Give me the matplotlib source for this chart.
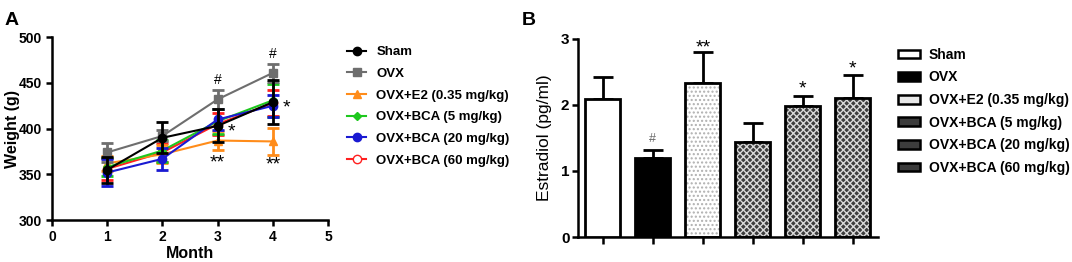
import matplotlib
matplotlib.use("Agg")
import matplotlib.pyplot as plt
from matplotlib.lines import Line2D
from matplotlib.patches import Patch

plt.rcParams["font.family"] = ["Liberation Sans", "DejaVu Sans"]
plt.rcParams["hatch.linewidth"] = 1.0

# panel A: body weight by month
months = [1, 2, 3, 4]
group_names = ["Sham", "OVX", "OVX+E2 (0.35 mg/kg)", "OVX+BCA (5 mg/kg)",
               "OVX+BCA (20 mg/kg)", "OVX+BCA (60 mg/kg)"]
sham_w = [355, 390, 403, 429]
sham_err = [14, 17, 18, 24]
ovx_w = [374, 392, 432, 461]
ovx_err = [10, 6, 10, 10]
e2_w = [362, 372, 387, 386]
e2_err = [8, 10, 10, 15]
bca5_w = [358, 376, 408, 431]
bca5_err = [10, 12, 14, 18]
bca20_w = [352, 367, 410, 425]
bca20_err = [15, 12, 12, 12]
bca60_w = [356, 374, 405, 428]
bca60_err = [12, 10, 12, 14]

# panel B: estradiol
estradiol = [2.09, 1.20, 2.34, 1.44, 1.99, 2.11]
estradiol_err = [0.34, 0.12, 0.46, 0.29, 0.15, 0.34]

fig = plt.figure(figsize=(10.72, 2.62), dpi=100)

# ---------- A ----------
ax = fig.add_axes([0.0485, 0.160, 0.2575, 0.698])
series = [
    (sham_w, sham_err, "black", "o"),
    (ovx_w, ovx_err, "#6e6e6e", "s"),
    (e2_w, e2_err, "#ff8c1a", "^"),
    (bca5_w, bca5_err, "#1ec81e", "D"),
    (bca20_w, bca20_err, "#1a1ad2", "o"),
    (bca60_w, bca60_err, "#ff2020", "o"),
]
draw_order = [5, 2, 3, 4, 1, 0]
for i in draw_order:
    w, e, c, m = series[i]
    ms = 6 if m != "D" else 4.5
    mfc = c if i != 5 else "white"
    ax.errorbar(months, w, yerr=e, color=c, marker=m, markersize=ms,
                markerfacecolor=mfc, linewidth=1.5, elinewidth=2,
                capsize=4, capthick=2, zorder=3 + draw_order.index(i))

ax.set_xlim(0, 5)
ax.set_ylim(300, 500)
ax.set_xticks([0, 1, 2, 3, 4, 5])
ax.set_yticks([300, 350, 400, 450, 500])
for s in ["top", "right"]:
    ax.spines[s].set_visible(False)
for s in ["left", "bottom"]:
    ax.spines[s].set_linewidth(1.8)
ax.tick_params(width=1.8, length=4, labelsize=10)
for lab in ax.get_xticklabels() + ax.get_yticklabels():
    lab.set_fontweight("bold")
ax.set_xlabel("Month", fontsize=11.5, fontweight="bold", labelpad=1)
ax.set_ylabel("Weight (g)", fontsize=11.5, fontweight="bold")
ax.yaxis.set_label_coords(-0.116, 0.5)

ax.text(3, 445, "#", ha="center", va="bottom", fontsize=10)
ax.text(4, 474, "#", ha="center", va="bottom", fontsize=10)
ax.text(3.25, 396, "*", ha="center", va="center", fontsize=14)
ax.text(4.25, 423, "*", ha="center", va="center", fontsize=14)
ax.text(3, 362, "**", ha="center", va="center", fontsize=14)
ax.text(4, 360, "**", ha="center", va="center", fontsize=14)

handles = []
for i in range(6):
    w, e, c, m = series[i]
    mfc = c if i != 5 else "white"
    handles.append(Line2D([], [], color=c, marker=m, markersize=6 if m != "D" else 4.5,
                          markerfacecolor=mfc, linewidth=1.5))
fig.legend(handles, group_names, loc="upper left", bbox_to_anchor=(0.313, 0.87),
           frameon=False, prop={"weight": "bold", "size": 9.5},
           handlelength=1.4, labelspacing=0.72, handletextpad=0.8)

fig.text(0.004, 0.955, "A", fontsize=14, fontweight="bold", va="top")

# ---------- B ----------
bx = fig.add_axes([0.539, 0.0954, 0.280, 0.756])
pos = list(range(len(estradiol)))
faces = ["white", "black", "white", "#3c3c3c", "#3c3c3c", "#3c3c3c"]
hatches = [None, None, "....", "xxxxx", "xxxxx", "xxxxx"]
hatch_cols = [None, None, "#b0b0b0", "#d8d8d8", "#d8d8d8", "#d8d8d8"]
for i in pos:
    if hatches[i]:
        bx.bar(pos[i], estradiol[i], width=0.7, color=faces[i], hatch=hatches[i],
               edgecolor=hatch_cols[i], linewidth=0, zorder=2)
        bx.bar(pos[i], estradiol[i], width=0.7, color="none",
               edgecolor="black", linewidth=2, zorder=3)
    else:
        bx.bar(pos[i], estradiol[i], width=0.7, color=faces[i],
               edgecolor="black", linewidth=2, zorder=3)
    bx.errorbar(pos[i], estradiol[i], yerr=[[0], [estradiol_err[i]]], color="black",
                elinewidth=2, capsize=7, capthick=2, zorder=1)

bx.set_xlim(-0.5, 5.5)
bx.set_ylim(0, 3)
bx.set_yticks([0, 1, 2, 3])
bx.set_xticks(pos)
bx.set_xticklabels([])
for s in ["top", "right"]:
    bx.spines[s].set_visible(False)
for s in ["left", "bottom"]:
    bx.spines[s].set_linewidth(1.8)
bx.tick_params(width=1.8, length=5, labelsize=11)
bx.tick_params(axis="y", length=4, pad=2)
for lab in bx.get_yticklabels():
    lab.set_fontweight("bold")
bx.set_ylabel("Estradiol (pg/ml)", fontsize=12.5)
bx.yaxis.set_label_coords(-0.085, 0.5)

bx.text(1, 1.40, "#", ha="center", va="bottom", fontsize=9, color="#666666")
bx.text(2, 2.86, "**", ha="center", va="center", fontsize=14)
bx.text(4, 2.24, "*", ha="center", va="center", fontsize=14)
bx.text(5, 2.55, "*", ha="center", va="center", fontsize=14)

bhandles = []
for i in pos:
    bhandles.append(Patch(facecolor=faces[i] if i != 2 else "#e8e8e8",
                          edgecolor="black", linewidth=1.8))
fig.legend(bhandles, group_names, loc="upper left", bbox_to_anchor=(0.826, 0.865),
           frameon=False, prop={"weight": "bold", "size": 10},
           handlelength=1.6, handleheight=0.6, labelspacing=0.62, handletextpad=0.6)

fig.text(0.487, 0.955, "B", fontsize=14, fontweight="bold", va="top")

fig.savefig("out.png", dpi=100)
